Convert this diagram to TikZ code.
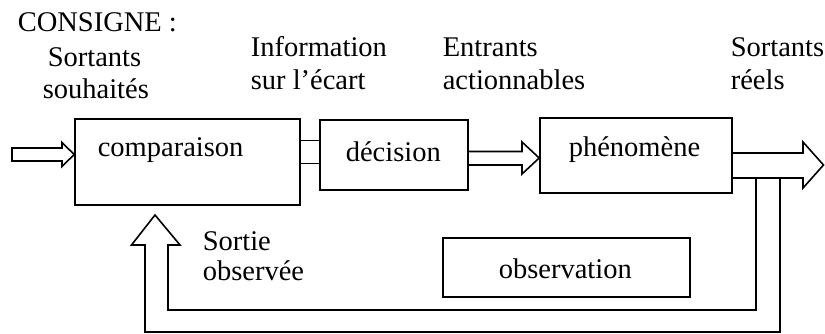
\documentclass[tikz,border=0pt]{standalone}
\usepackage{fontspec}
\setmainfont{Liberation Serif}
\begin{document}
\begin{tikzpicture}[x=1pt,y=-1pt,line width=1.6pt,line join=miter,
  box/.style={draw,rectangle,inner sep=0pt},
  lbl/.style={anchor=base west,inner sep=0pt,font=\fontsize{28.5}{32}\selectfont}]
\useasboundingbox (0,0) rectangle (825,334);

% blocks
\node[box,minimum width=225pt,minimum height=86pt] (comp) at (187.5,162) {};
\node[box,minimum width=148pt,minimum height=70pt] (dec) at (394,155) {};
\node[box,minimum width=192pt,minimum height=75pt] (phen) at (636,155.5) {};
\node[box,minimum width=247pt,minimum height=59pt] (obs) at (566.5,267.5) {};

% block texts
\node[lbl] (tcomp) at (97,157) {comparaison};
\node[lbl] (tdec) at (345,161.7) {décision};
\node[lbl] (tphen) at (568,156.7) {phénomène};
\node[lbl] (tobs) at (498,278) {observation};

% heights used by the double-line links
\coordinate (ya) at (0,140.7);
\coordinate (yb) at (0,163.5);
\coordinate (s1) at (0,151.5);
\coordinate (s2) at (0,165);
\coordinate (m1) at (0,158);
\coordinate (o1) at (0,153);
\coordinate (o2) at (0,178);
\coordinate (inY) at (0,154.5);

% set point entering the comparison
\draw (12,148) -- (62,148) -- (62,142.5) -- (comp.west |- inY)
      -- (62,166.5) -- (62,161) -- (12,161) -- cycle;

% comparison -> decision
\draw (comp.east |- ya) -- (dec.west |- ya);
\draw (comp.east |- yb) -- (dec.west |- yb);

% decision -> phenomenon
\draw (dec.east |- s1) -- (522,151.5) -- (522,142) -- (phen.west |- m1)
      -- (522,174) -- (522,165) -- (dec.east |- s2);

% actual output
\coordinate (out) at (823.5,165);
\draw (phen.east |- o1) -- (803,153) -- (803,142) -- (out)
      -- (803,188) -- (803,178) -- (phen.east |- o2);

% feedback loop back to the comparison
\coordinate (fbTip) at (155,215);
\draw (756,178) -- (756,310) -- (168,310) -- (168,245) -- (180,245)
      -- (fbTip) -- (131.5,245) -- (145,245) -- (145,332) -- (780,332) -- (780,178);

% labels
\node[lbl] (consigne) at (17,31.7) {CONSIGNE :};
\node[lbl] (sw1) at (47,66.7) {Sortants};
\node[lbl] (sw2) at (42,98.3) {souhaités};
\node[lbl] (inf1) at (250,57) {Information};
\node[lbl] (inf2) at (250,90) {sur l’écart};
\node[lbl] (ent1) at (442,57) {Entrants};
\node[lbl] (ent2) at (442,90) {actionnables};
\node[lbl] (sr1) at (730,57) {Sortants};
\node[lbl] (sr2) at (730,90) {réels};
\node[lbl] (so1) at (202,250) {Sortie};
\node[lbl] (so2) at (202,280) {observée};
\end{tikzpicture}
\end{document}
